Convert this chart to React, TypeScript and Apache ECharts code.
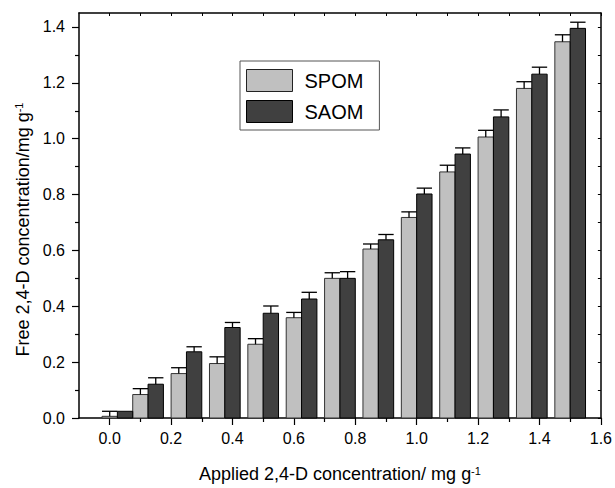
import React, { useEffect, useRef } from "react";
import * as echarts from "echarts";

const FONT = "'Liberation Sans', Arial, Helvetica, sans-serif";

// Applied 2,4-D concentration (mg g-1), group positions as plotted
const applied = [0.025, 0.125, 0.25, 0.375, 0.5, 0.625, 0.75, 0.875, 1.0, 1.125, 1.25, 1.375, 1.5];
// Free 2,4-D concentration (mg g-1)
const spom = [0.006, 0.084, 0.159, 0.195, 0.264, 0.359, 0.5, 0.605, 0.718, 0.881, 1.006, 1.18, 1.347];
const spomErr = [0.018, 0.021, 0.021, 0.024, 0.02, 0.019, 0.02, 0.018, 0.02, 0.024, 0.024, 0.024, 0.025];
const saom = [0.024, 0.121, 0.237, 0.324, 0.375, 0.426, 0.5, 0.638, 0.802, 0.945, 1.078, 1.231, 1.395];
const saomErr = [0, 0.023, 0.018, 0.018, 0.026, 0.024, 0.024, 0.019, 0.021, 0.022, 0.025, 0.025, 0.022];

const xMajorTicks = [0, 0.2, 0.4, 0.6, 0.8, 1.0, 1.2, 1.4, 1.6];
const xMinorTicks = [0.1, 0.3, 0.5, 0.7, 0.9, 1.1, 1.3, 1.5];
const yMajorTicks = [0, 0.2, 0.4, 0.6, 0.8, 1.0, 1.2, 1.4];
const yMinorTicks = [0.1, 0.3, 0.5, 0.7, 0.9, 1.1, 1.3];
const xAllTicks = [...xMajorTicks, ...xMinorTicks].sort((a, b) => a - b);
const yAllTicks = [...yMajorTicks, ...yMinorTicks].sort((a, b) => a - b);

const X_MIN = -0.1;
const X_MAX = 1.6;
const Y_MIN = 0;
const Y_MAX = 1.45;
const BAR_W = 0.05;

const LIGHT = "#c0c0c0";
const DARK = "#404040";

function makeRender(side: number, fill: string, stroke: string) {
  return (params: any, api: any) => {
    const x = api.value(0);
    const y = api.value(1);
    const e = api.value(2);
    const x0 = x + side * BAR_W;
    const x1 = x0 + BAR_W;
    const tl = api.coord([x0, y]);
    const br = api.coord([x1, 0]);
    const mid = (tl[0] + br[0]) / 2;
    const children: any[] = [
      {
        type: "rect",
        shape: { x: tl[0], y: tl[1], width: br[0] - tl[0], height: br[1] - tl[1] },
        style: { fill, stroke, lineWidth: 1 },
      },
    ];
    if (e > 0) {
      const capY = api.coord([x0, y + e])[1];
      children.push({
        type: "line",
        shape: { x1: mid, y1: tl[1], x2: mid, y2: capY },
        style: { stroke: "#000", lineWidth: 1.3 },
      });
      children.push({
        type: "line",
        shape: { x1: tl[0], y1: capY, x2: br[0], y2: capY },
        style: { stroke: "#000", lineWidth: 1.3 },
      });
    }
    return { type: "group", children };
  };
}

const fmt = (v: number) => v.toFixed(1);

export default function App() {
  const ref = useRef<HTMLDivElement>(null);
  useEffect(() => {
    document.body.style.margin = "0";
    const chart = echarts.init(ref.current!, null, { renderer: "svg" });
    const axisLineStyle = { color: "#000", width: 1.5 };
    const common = { type: "value" as const, min: X_MIN, max: X_MAX, splitLine: { show: false } };
    const commonY = { type: "value" as const, min: Y_MIN, max: Y_MAX, splitLine: { show: false } };
    chart.setOption({
      animation: false,
      backgroundColor: "#fff",
      textStyle: { fontFamily: FONT },
      grid: { left: 79, right: 13, top: 13, bottom: 70, containLabel: false },
      legend: {
        orient: "vertical",
        left: 240,
        top: 61,
        itemWidth: 46,
        itemHeight: 22,
        itemGap: 8,
        padding: [8, 16, 7, 6],
        borderColor: "#555",
        borderWidth: 1,
        backgroundColor: "#fff",
        textStyle: { fontSize: 20, fontFamily: FONT, color: "#000", padding: [0, 0, 0, 7] },
        data: [
          { name: "SPOM", icon: "rect", itemStyle: { color: LIGHT, borderColor: "#222", borderWidth: 1 } },
          { name: "SAOM", icon: "rect", itemStyle: { color: DARK, borderColor: "#000", borderWidth: 1 } },
        ],
      },
      xAxis: [
        {
          ...common,
          position: "bottom",
          axisLine: { onZero: false, lineStyle: axisLineStyle },
          axisTick: { show: true, inside: false, length: 7, customValues: xMajorTicks, lineStyle: { color: "#000", width: 1.2 } },
          axisLabel: { customValues: xMajorTicks, formatter: fmt, fontSize: 16, color: "#000", margin: 12, fontFamily: FONT },
          name: "{a|Applied 2,4-D concentration/ mg g}{s|-1}",
          nameLocation: "middle",
          nameGap: 47,
          nameTextStyle: {
            rich: {
              a: { fontSize: 18, fontFamily: FONT, color: "#000" },
              s: { fontSize: 11, fontFamily: FONT, color: "#000", verticalAlign: "top" },
            },
          },
        },
        {
          ...common,
          position: "bottom",
          axisLine: { show: false, onZero: false },
          axisTick: { show: true, inside: false, length: 4, customValues: xMinorTicks, lineStyle: { color: "#000", width: 1.2 } },
          axisLabel: { show: false },
        },
        {
          ...common,
          position: "top",
          axisLine: { onZero: false, lineStyle: axisLineStyle },
          axisTick: { show: true, inside: true, length: 3, customValues: xAllTicks, lineStyle: { color: "#000", width: 1 } },
          axisLabel: { show: false },
        },
      ],
      yAxis: [
        {
          ...commonY,
          position: "left",
          axisLine: { onZero: false, lineStyle: axisLineStyle },
          axisTick: { show: true, inside: false, length: 7, customValues: yMajorTicks, lineStyle: { color: "#000", width: 1.2 } },
          axisLabel: { customValues: yMajorTicks, formatter: fmt, fontSize: 16, color: "#000", margin: 14, fontFamily: FONT },
          name: "{a|Free 2,4-D concentration/mg g}{s|-1}",
          nameLocation: "middle",
          nameGap: 46,
          nameTextStyle: {
            padding: [0, 28, 0, 0],
            rich: {
              a: { fontSize: 18, fontFamily: FONT, color: "#000" },
              s: { fontSize: 11, fontFamily: FONT, color: "#000", verticalAlign: "top" },
            },
          },
        },
        {
          ...commonY,
          position: "left",
          axisLine: { show: false, onZero: false },
          axisTick: { show: true, inside: false, length: 4, customValues: yMinorTicks, lineStyle: { color: "#000", width: 1.2 } },
          axisLabel: { show: false },
        },
        {
          ...commonY,
          position: "right",
          axisLine: { onZero: false, lineStyle: axisLineStyle },
          axisTick: { show: true, inside: true, length: 3, customValues: yAllTicks, lineStyle: { color: "#000", width: 1 } },
          axisLabel: { show: false },
        },
      ],
      series: [
        {
          name: "SPOM",
          type: "custom",
          xAxisIndex: 0,
          yAxisIndex: 0,
          itemStyle: { color: LIGHT },
          renderItem: makeRender(-1, LIGHT, "#333"),
          encode: { x: 0, y: 1 },
          data: applied.map((a, i) => [a, spom[i], spomErr[i]]),
          z: 2,
        },
        {
          name: "SAOM",
          type: "custom",
          xAxisIndex: 0,
          yAxisIndex: 0,
          itemStyle: { color: DARK },
          renderItem: makeRender(0, DARK, "#000"),
          encode: { x: 0, y: 1 },
          data: applied.map((a, i) => [a, saom[i], saomErr[i]]),
          z: 2,
        },
      ],
    });
    return () => chart.dispose();
  }, []);
  return <div ref={ref} style={{ width: 615, height: 488 }} />;
}
